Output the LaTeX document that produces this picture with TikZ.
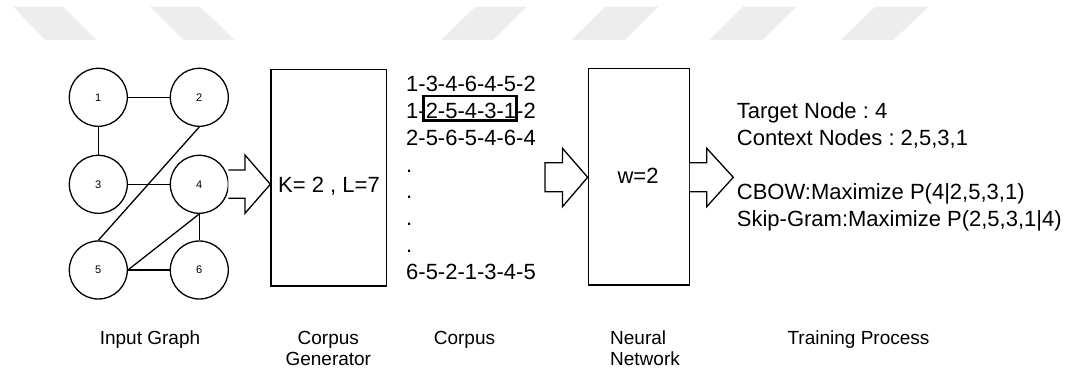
\documentclass[tikz,border=0pt]{standalone}
\usepackage{fontspec}
\setmainfont{Liberation Sans}
\frenchspacing
\begin{document}
\begin{tikzpicture}[x=1pt,y=-1pt,
  gnode/.style={circle,draw,line width=1.3pt,minimum size=58pt,inner sep=0pt,font=\fontsize{11}{13}\selectfont},
  edge/.style={line width=1.3pt},
  bigbox/.style={draw,line width=1.3pt},
  blockarrow/.style={draw,line width=1.3pt,line join=miter,fill=white},
  bodytext/.style={font=\fontsize{22}{26}\selectfont,inner sep=0pt},
  caption/.style={font=\fontsize{19}{21.7}\selectfont,inner sep=0pt,anchor=base},
  wm/.style={fill=black!7,draw=none}]
\useasboundingbox (0,0) rectangle (1071,369);
% watermark
\fill[wm] (13.3,6.7) -- (63.3,6.7) -- (96.7,40) -- (45,40) -- cycle;
\fill[wm] (150,6.7) -- (200,6.7) -- (235,40) -- (183.3,40) -- cycle;
\fill[wm] (475.4,6.7) -- (526.6,6.7) -- (493.4,40) -- (440.8,40) -- cycle;
\fill[wm] (605.2,6.7) -- (658.1,6.7) -- (624.9,40) -- (571.3,40) -- cycle;
\fill[wm] (743,6.7) -- (796.6,6.7) -- (762.7,40) -- (709,40) -- cycle;
\fill[wm] (875.2,6.7) -- (928.8,6.7) -- (893.5,40) -- (840.6,40) -- cycle;
% graph
\node[gnode] (n1) at (98.3,97.3) {1};
\node[gnode] (n2) at (199.3,97.3) {2};
\node[gnode] (n3) at (98.3,184.3) {3};
\node[gnode] (n4) at (199.3,184.3) {4};
\node[gnode] (n5) at (98.3,270) {5};
\node[gnode] (n6) at (199.3,270) {6};
\draw[edge] (n1) -- (n2);
\draw[edge] (n1) -- (n3);
\draw[edge] (n3) -- (n4);
\draw[edge] (n2.south) -- (n5.north);
\draw[edge] (n4.south) -- (n5.east);
\draw[edge] (n4) -- (n6);
\draw[edge] (n5) -- (n6);
% corpus generator box
\node[bigbox,minimum width=115.7pt,minimum height=216.7pt,inner sep=0pt] (cg) at (328.85,177.65) {};
\node[bodytext,anchor=base] (cgtext) at (329,192.2) {K= 2 , L=7};
% arrow 1
\draw[blockarrow] (228.3,170) -- (245,170) -- (245,155) -- (cg.west |- n4) -- (245,213.3) -- (245,198.3) -- (228.3,198.3);
% corpus
\node[bodytext,anchor=base west] (c1) at (406,91.3) {1-3-4-6-4-5-2};
\node[bodytext,anchor=base west] (c2) at (406,118.2) {1-2-5-4-3-1-2};
\node[bodytext,anchor=base west] (c3) at (406,145.1) {2-5-6-5-4-6-4};
\node[bodytext,anchor=base west] (c4) at (406,172.0) {.};
\node[bodytext,anchor=base west] (c5) at (406,198.9) {.};
\node[bodytext,anchor=base west] (c6) at (406,225.8) {.};
\node[bodytext,anchor=base west] (c7) at (406,252.7) {.};
\node[bodytext,anchor=base west] (c8) at (406,279.6) {6-5-2-1-3-4-5};
\draw[line width=2.5pt] (423.3,96) rectangle (516.7,120.7);
% neural network box
\node[bigbox,minimum width=101pt,minimum height=216.7pt,inner sep=0pt] (nn) at (638.8,176.65) {};
\node[bodytext,anchor=base] (nntext) at (638,183.6) {w=2};
% arrow 2
\draw[blockarrow] (545,162.7) -- (562.5,162.7) -- (562.5,148.3) -- (nn.west |- 0,177.3) -- (562.5,206.7) -- (562.5,191.7) -- (545,191.7) -- cycle;
% arrow 3
\draw[blockarrow] (nn.east |- 0,162.7) -- (706.7,162.7) -- (706.7,148.3) -- (733.3,177.3) -- (706.7,206.7) -- (706.7,191.7) -- (nn.east |- 0,191.7);
% training text
\node[bodytext,anchor=base west] (t1) at (736.7,118.6) {Target Node : 4};
\node[bodytext,anchor=base west] (t2) at (736.7,145.2) {Context Nodes : 2,5,3,1};
\node[bodytext,anchor=base west] (t3) at (736.7,199.6) {CBOW:Maximize P(4|2,5,3,1)};
\node[bodytext,anchor=base west] (t4) at (736.7,226.2) {Skip-Gram:Maximize P(2,5,3,1|4)};
% captions
\node[caption] (l1) at (150,344.1) {Input Graph};
\node[caption,align=center] (l2) at (328.3,365.8) {Corpus\\Generator};
\node[caption] (l3) at (464.5,344.1) {Corpus};
\node[caption,align=left] (l4) at (645,365.8) {Neural\\Network};
\node[caption] (l5) at (858.5,344.1) {Training Process};
\end{tikzpicture}
\end{document}
